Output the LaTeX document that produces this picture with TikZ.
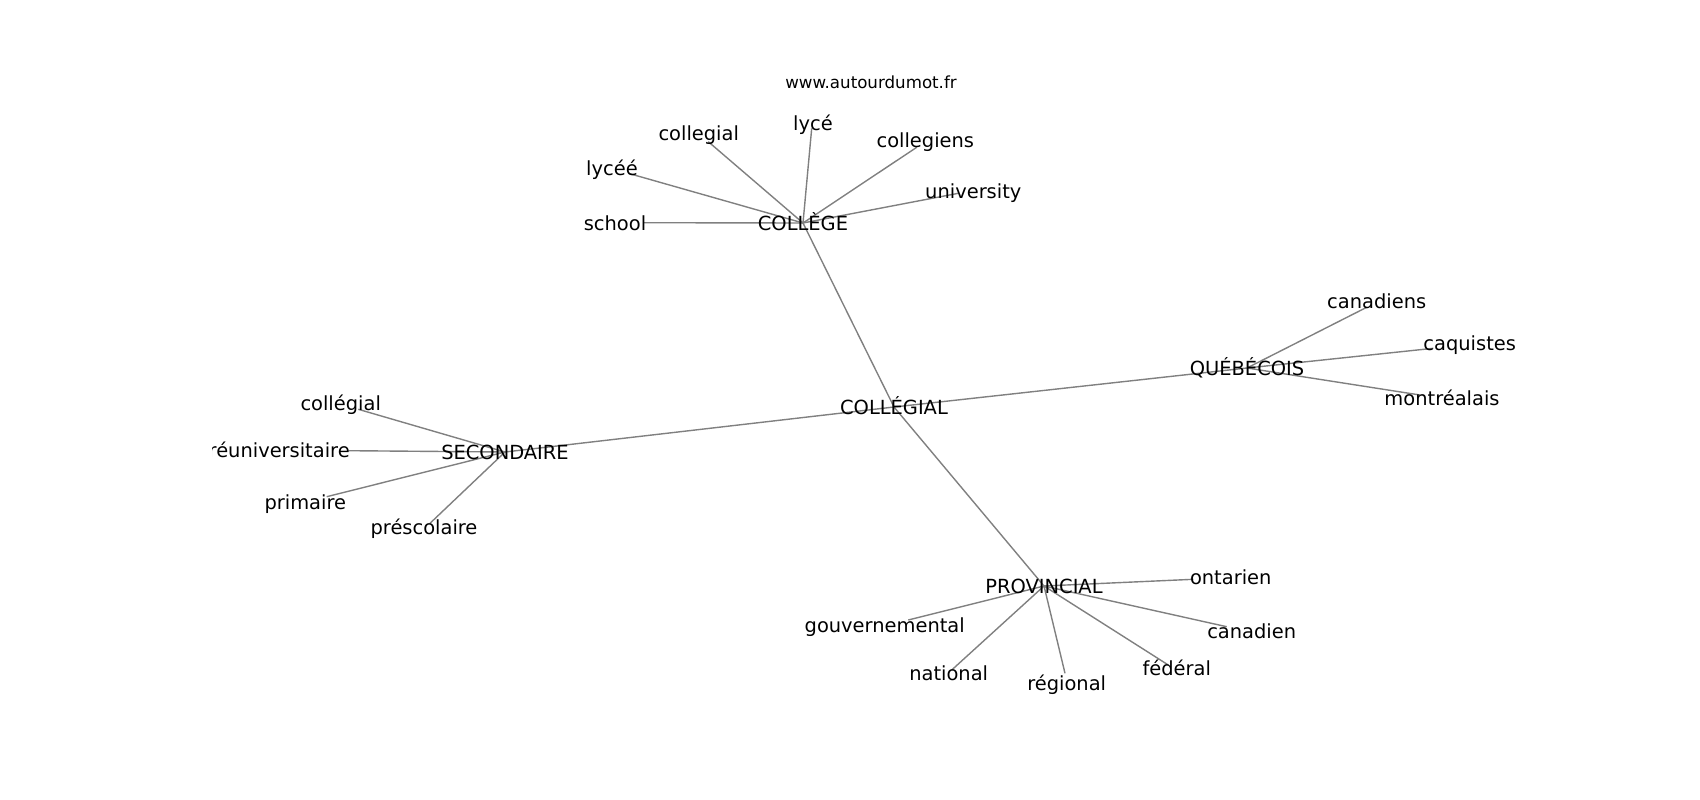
\documentclass[tikz,border=0pt]{standalone}
\usepackage{fontspec}
\setmainfont{DejaVu Sans}
\usepackage{tikz}
\pgfdeclarelayer{nodelayer}
\pgfdeclarelayer{edgelayer}
\pgfsetlayers{edgelayer,nodelayer,main}
\tikzset{
  word/.style={inner sep=0pt, text height=16.4pt, text depth=1.4pt, font=\fontsize{19.44}{23}\selectfont},
  sitename/.style={inner sep=0pt, anchor=base, font=\fontsize{16.67}{20}\selectfont},
  link/.style={draw=gray, line width=1.4pt},
}

\begin{document}
\begin{tikzpicture}[x=100pt, y=100pt]
  \useasboundingbox (0, 0) rectangle (17, -8);
  \begin{pgfonlayer}{nodelayer}
    \node [sitename] (44) at (8.71, -0.885) {www.autourdumot.fr};
    \begin{scope}
      \clip (2.125, -0.96) rectangle (15.3, -7.12);
      \node [word] (0) at (8.94, -4.07) {COLLÉGIAL};
      \node [word] (1) at (8.03, -2.23) {COLLÈGE};
      \node [word] (2) at (12.47, -3.68) {QUÉBÉCOIS};
      \node [word] (3) at (5.05, -4.52) {SECONDAIRE};
      \node [word] (4) at (10.44, -5.86) {PROVINCIAL};
      \node [word] (5) at (6.15, -2.227) {school};
      \node [word] (6) at (6.12, -1.683) {lycéé};
      \node [word] (7) at (6.987, -1.327) {collegial};
      \node [word] (8) at (8.13, -1.233) {lycé};
      \node [word] (9) at (9.253, -1.40) {collegiens};
      \node [word] (10) at (9.733, -1.907) {university};
      \node [word] (11) at (13.767, -3.007) {canadiens};
      \node [word] (12) at (14.697, -3.427) {caquistes};
      \node [word] (13) at (14.42, -3.983) {montréalais};
      \node [word] (14) at (3.407, -4.033) {collégial};
      \node [word] (15) at (2.73, -4.50) {préuniversitaire};
      \node [word] (16) at (3.053, -5.017) {primaire};
      \node [word] (17) at (4.24, -5.267) {préscolaire};
      \node [word] (18) at (12.307, -5.767) {ontarien};
      \node [word] (19) at (8.847, -6.25) {gouvernemental};
      \node [word] (20) at (12.517, -6.307) {canadien};
      \node [word] (21) at (9.487, -6.733) {national};
      \node [word] (22) at (10.667, -6.827) {régional};
      \node [word] (23) at (11.767, -6.683) {fédéral};
    \end{scope}
    \node [] (25) at (6.433, -2.227) {};
    \node [] (26) at (6.283, -1.733) {};
    \node [] (27) at (7.083, -1.417) {};
    \node [] (28) at (8.117, -1.283) {};
    \node [] (29) at (9.167, -1.473) {};
    \node [] (30) at (9.583, -1.933) {};
    \node [] (31) at (13.667, -3.073) {};
    \node [] (32) at (14.333, -3.483) {};
    \node [] (33) at (14.20, -3.95) {};
    \node [] (34) at (3.583, -4.093) {};
    \node [] (35) at (3.483, -4.507) {};
    \node [] (36) at (3.267, -4.967) {};
    \node [] (37) at (4.30, -5.233) {};
    \node [] (38) at (11.933, -5.793) {};
    \node [] (39) at (9.083, -6.20) {};
    \node [] (40) at (12.267, -6.267) {};
    \node [] (41) at (9.517, -6.70) {};
    \node [] (42) at (10.65, -6.733) {};
    \node [] (43) at (11.683, -6.65) {};
  \end{pgfonlayer}
  \begin{pgfonlayer}{edgelayer}
    \draw [link] (0.center) to (1.center);
    \draw [link] (0.center) to (2.center);
    \draw [link] (0.center) to (3.center);
    \draw [link] (0.center) to (4.center);
    \draw [link] (1.center) to (25.center);
    \draw [link] (1.center) to (26.center);
    \draw [link] (1.center) to (27.center);
    \draw [link] (1.center) to (28.center);
    \draw [link] (1.center) to (29.center);
    \draw [link] (1.center) to (30.center);
    \draw [link] (2.center) to (31.center);
    \draw [link] (2.center) to (32.center);
    \draw [link] (2.center) to (33.center);
    \draw [link] (3.center) to (34.center);
    \draw [link] (3.center) to (35.center);
    \draw [link] (3.center) to (36.center);
    \draw [link] (3.center) to (37.center);
    \draw [link] (4.center) to (38.center);
    \draw [link] (4.center) to (39.center);
    \draw [link] (4.center) to (40.center);
    \draw [link] (4.center) to (41.center);
    \draw [link] (4.center) to (42.center);
    \draw [link] (4.center) to (43.center);
  \end{pgfonlayer}
\end{tikzpicture}
\end{document}
